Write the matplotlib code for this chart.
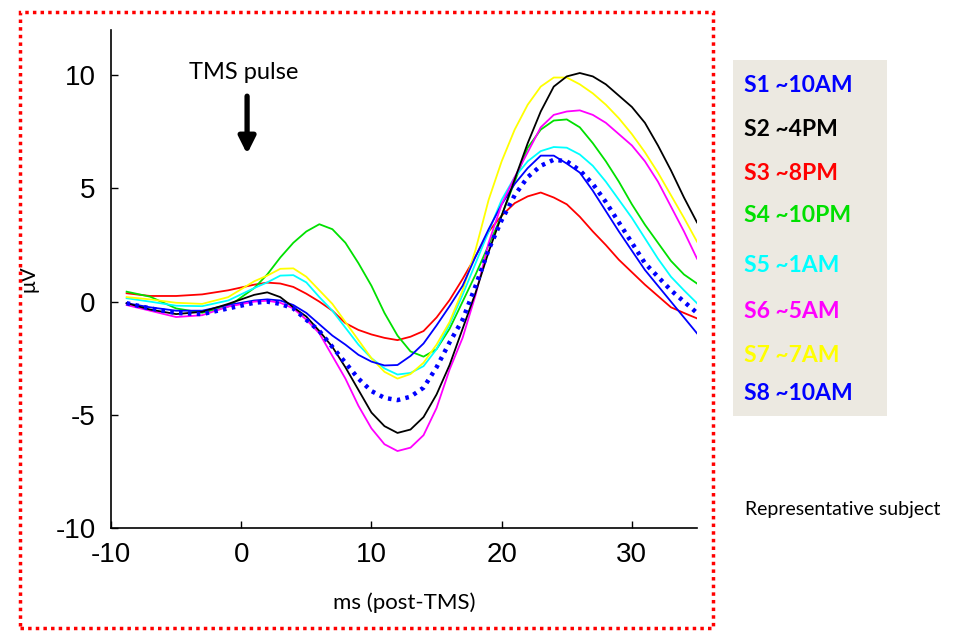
import matplotlib
matplotlib.use("Agg")
import matplotlib.pyplot as plt
from matplotlib.patches import Rectangle

t_ms = [-8.8, -7, -5, -3, -1, 1, 2, 3, 4, 5, 6, 7, 8, 9, 10, 11, 12, 13, 14, 15,
        16, 17, 18, 19, 20, 21, 22, 23, 24, 25, 26, 27, 28, 29, 30, 31, 32, 33, 34, 35]

s1 = [-0.07, -0.25, -0.4, -0.4, -0.15, 0.05, 0.1, 0.05, -0.15, -0.5, -1.0, -1.5, -1.9, -2.35, -2.65,
      -2.82, -2.8, -2.4, -1.85, -1.05, -0.2, 0.7, 2.0, 3.2, 4.3, 5.2, 5.9, 6.45, 6.45, 6.1, 5.7, 4.9,
      4.0, 3.1, 2.25, 1.4, 0.7, 0.0, -0.7, -1.4]
s2 = [-0.07, -0.35, -0.55, -0.45, -0.1, 0.3, 0.41, 0.2, -0.25, -0.66, -1.3, -2.0, -2.9, -3.9, -4.9,
      -5.5, -5.8, -5.65, -5.1, -4.1, -2.8, -1.2, 0.4, 2.2, 3.8, 5.4, 7.0, 8.4, 9.5, 9.95, 10.1, 9.95,
      9.6, 9.1, 8.6, 7.9, 6.9, 5.8, 4.6, 3.5]
s3 = [0.37, 0.25, 0.25, 0.32, 0.5, 0.75, 0.84, 0.8, 0.65, 0.35, 0.0, -0.4, -0.95, -1.25, -1.45,
      -1.6, -1.7, -1.55, -1.3, -0.7, 0.07, 1.0, 2.0, 3.1, 3.8, 4.35, 4.65, 4.82, 4.6, 4.3, 3.75, 3.1,
      2.5, 1.85, 1.3, 0.75, 0.25, -0.25, -0.5, -0.74]
s4 = [0.44, 0.22, -0.3, -0.49, -0.22, 0.6, 1.2, 1.95, 2.6, 3.1, 3.42, 3.2, 2.6, 1.7, 0.7,
      -0.5, -1.5, -2.2, -2.43, -2.1, -1.2, 0.0, 1.2, 2.5, 3.8, 5.3, 6.8, 7.6, 8.0, 8.05, 7.7, 7.0,
      6.2, 5.3, 4.3, 3.4, 2.6, 1.8, 1.2, 0.8]
s5 = [0.15, 0.0, -0.18, -0.2, 0.05, 0.6, 0.85, 1.15, 1.17, 0.85, 0.2, -0.4, -1.15, -1.9, -2.5,
      -2.95, -3.22, -3.15, -2.85, -2.1, -1.0, 0.3, 1.7, 3.1, 4.5, 5.5, 6.2, 6.65, 6.83, 6.8, 6.5, 6.0,
      5.3, 4.5, 3.7, 2.8, 1.9, 1.1, 0.5, -0.07]
s6 = [-0.15, -0.4, -0.68, -0.6, -0.22, 0.0, 0.04, -0.05, -0.3, -0.8, -1.4, -2.4, -3.4, -4.6, -5.6,
      -6.3, -6.6, -6.45, -5.9, -4.7, -3.0, -1.6, 0.3, 2.6, 4.3, 5.5, 6.6, 7.7, 8.25, 8.4, 8.45, 8.25,
      7.9, 7.4, 6.9, 6.2, 5.3, 4.2, 3.1, 1.9]
s7 = [0.2, 0.1, -0.05, -0.1, 0.2, 0.9, 1.15, 1.45, 1.47, 1.1, 0.5, -0.1, -0.9, -1.7, -2.5,
      -3.1, -3.4, -3.2, -2.7, -1.9, -0.9, 0.5, 2.3, 4.5, 6.2, 7.6, 8.7, 9.5, 9.9, 9.9, 9.6, 9.2,
      8.7, 8.1, 7.4, 6.6, 5.7, 4.7, 3.7, 2.65]
s8 = [-0.07, -0.3, -0.5, -0.55, -0.3, -0.05, 0.0, -0.1, -0.3, -0.8, -1.3, -2.0, -2.7, -3.4, -3.95,
      -4.25, -4.35, -4.2, -3.8, -2.9, -1.8, -0.8, 0.7, 2.3, 3.6, 4.7, 5.5, 6.0, 6.27, 6.2, 5.8, 5.2,
      4.4, 3.5, 2.6, 1.7, 1.1, 0.5, 0.0, -0.5]

labels = ["S1 ~10AM", "S2 ~4PM", "S3 ~8PM", "S4 ~10PM", "S5 ~1AM", "S6 ~5AM", "S7 ~7AM", "S8 ~10AM"]
colors = ["#0000FF", "#000000", "#FF0000", "#00E000", "#00FFFF", "#FF00FF", "#FFFF00", "#0000FF"]
x_ticks = [-10, 0, 10, 20, 30]
y_ticks = [-10, -5, 0, 5, 10]

fig = plt.figure(figsize=(9.65, 6.31), dpi=100)
ax = fig.add_axes([111 / 965, 1 - 528 / 631, (697 - 111) / 965, (528 - 30) / 631])

series = [s1, s2, s3, s4, s5, s6, s7, s8]
order = [2, 3, 4, 6, 0, 5, 1, 7]
for i in order:
    if i == 7:
        ax.plot(t_ms, series[i], color=colors[i], lw=3.2, linestyle=(0, (0.8, 1.2)), zorder=5)
    else:
        ax.plot(t_ms, series[i], color=colors[i], lw=1.3, zorder=3)

ax.set_xlim(-10, 35)
ax.set_ylim(-10, 12)
ax.set_xticks(x_ticks)
ax.set_yticks(y_ticks)
tick_font = ['Liberation Sans']
ax.set_xticklabels([str(v) for v in x_ticks], family=tick_font, fontsize=20)
ax.set_yticklabels([str(v) for v in y_ticks], family=tick_font, fontsize=20)
ax.tick_params(direction='in', length=5, width=1)
ax.tick_params(axis='x', pad=10)
ax.tick_params(axis='y', pad=11)
ax.spines['top'].set_visible(False)
ax.spines['right'].set_visible(False)
ax.spines['left'].set_linewidth(1.2)
ax.spines['bottom'].set_linewidth(1.2)

label_font = ['Lato', 'DejaVu Sans']
ax.set_xlabel("ms (post-TMS)", family=label_font, fontsize=16, labelpad=18)
ax.set_ylabel("μV", family=label_font, fontsize=15, labelpad=12)

ax.text(0.2, 10.13, "TMS pulse", family=label_font, fontsize=17, ha='center', va='center')
ax.annotate("", xy=(0.45, 6.4), xytext=(0.45, 9.2),
            arrowprops=dict(arrowstyle='-|>,head_width=0.5,head_length=1.0', lw=3.8, color='black'))

# legend box
fig.patches.append(Rectangle((733 / 965, 1 - 416 / 631), (887 - 733) / 965, (416 - 60) / 631,
                             transform=fig.transFigure, facecolor='#ECE9E1', edgecolor='none', zorder=0))
legend_y = [85, 129, 174, 216, 266, 311, 355, 394]
for lab, col, yy in zip(labels, colors, legend_y):
    fig.text(744 / 965, 1 - yy / 631, lab, color=col, family=label_font, fontweight='bold',
             fontsize=16.5, ha='left', va='center')

fig.text(745 / 965, 1 - 509 / 631, "Representative subject", family=label_font, fontsize=14,
         ha='left', va='center')

# red dotted border
fig.patches.append(Rectangle((20 / 965, 1 - 628 / 631), (713 - 20) / 965, (628 - 12) / 631,
                             transform=fig.transFigure, facecolor='none', edgecolor='#FF0000',
                             lw=2.5, linestyle=(0, (1, 1.2)), zorder=10))

fig.savefig("out.png", dpi=100)
